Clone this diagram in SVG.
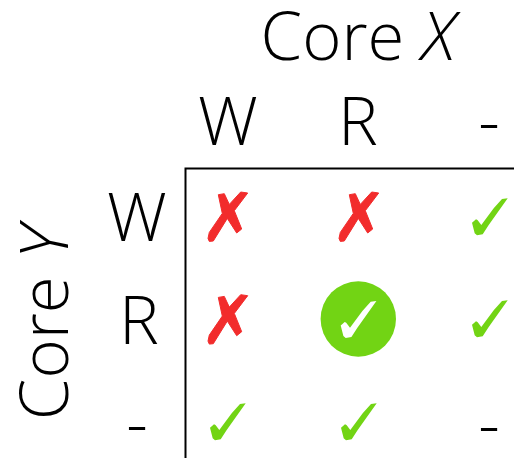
<svg xmlns="http://www.w3.org/2000/svg" xmlns:xlink="http://www.w3.org/1999/xlink" width="514" height="458" viewBox="0 0 514 458">
<style>
text{font-family:"Open Sans","Liberation Sans",sans-serif;font-weight:300;font-size:67px;fill:#000;text-anchor:middle}
.i{font-style:italic}
.g{fill:#72d414}
.r{fill:#f22c2c;stroke:#f22c2c;stroke-width:1;stroke-linejoin:round}
.w{fill:#fff}
</style>
<defs>
<path id="chk" d="M35.7 .3 30 1 21.7 10.3 9.3 27 5.5 22 4 21.3 0 24.7 2.7 35.3 5 37.3 10.7 36.3 16.7 27Z"/>
<path id="crs" d="M10.3 3 16.3 2 21.3 12.7 32.7 .3 39.7 1.3 26.3 19 33.7 37.3 28.7 41.3 19.3 26.7 5.3 49.3 1.3 49.7 0 46.7 1.3 40.7 14.3 21.7Z"/>
</defs>
<rect width="514" height="458" fill="#fff"/>
<g id="axes"><path d="M514 168.5H185.5V458" fill="none" stroke="#000" stroke-width="2"/></g>
<g id="titles">
<text x="358" y="59.5">Core <tspan class="i">X</tspan></text>
<text transform="translate(68.3 323) rotate(-90)">Core <tspan class="i">Y</tspan></text>
</g>
<g id="col-labels">
<text x="228" y="144.5">W</text>
<text x="358" y="144.5">R</text>
<text x="489" y="144">-</text>
</g>
<g id="row-labels">
<text x="137" y="240.7">W</text>
<text x="139" y="343.5">R</text>
<text x="137" y="446">-</text>
</g>
<g id="cells">
<use xlink:href="#crs" class="r" x="208" y="191.7"/>
<use xlink:href="#crs" class="r" x="339" y="191.7"/>
<use xlink:href="#chk" class="g" x="472" y="198"/>
<use xlink:href="#crs" class="r" x="208" y="294.4"/>
<circle cx="358.3" cy="319" r="37.7" class="g"/>
<use xlink:href="#chk" class="w" x="340.7" y="300.7"/>
<use xlink:href="#chk" class="g" x="472" y="300"/>
<use xlink:href="#chk" class="g" x="210" y="403"/>
<use xlink:href="#chk" class="g" x="341" y="403"/>
<text x="489" y="447">-</text>
</g>
</svg>
